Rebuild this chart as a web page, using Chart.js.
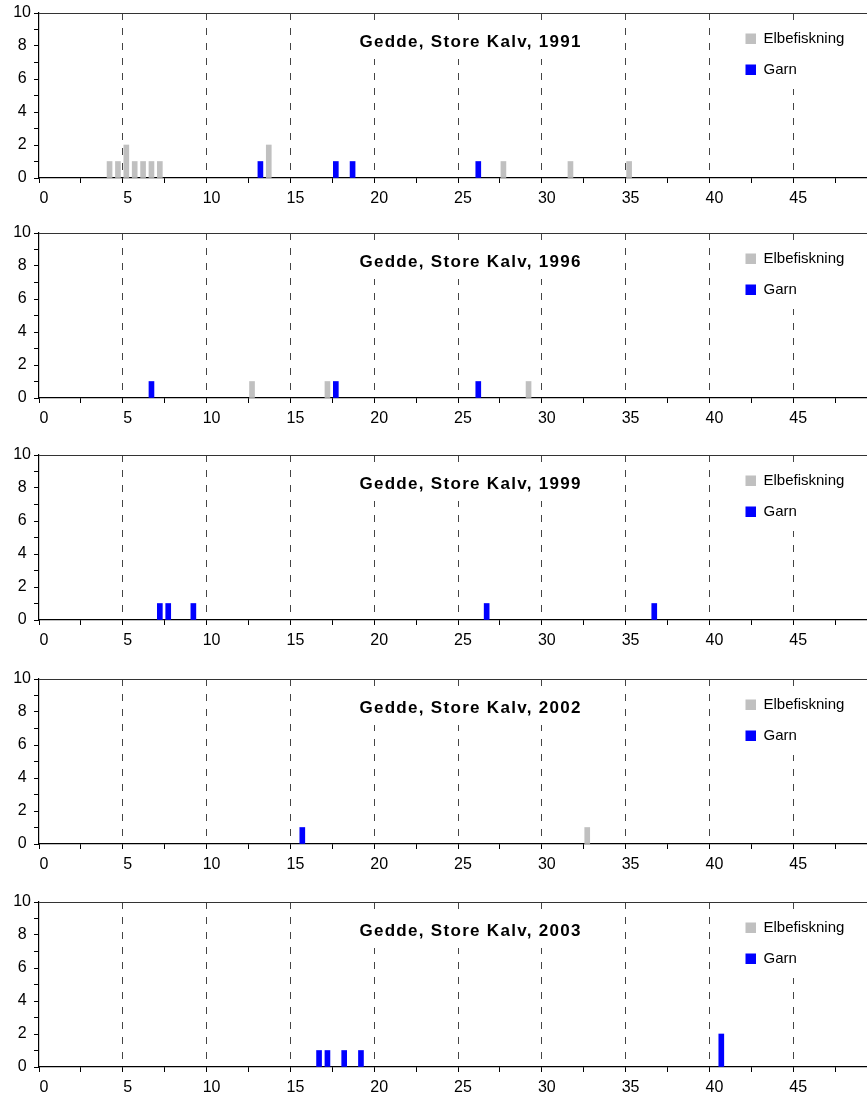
<!DOCTYPE html>
<html>
<head>
<meta charset="utf-8">
<script src="https://cdn.jsdelivr.net/npm/chart.js@4/dist/chart.umd.min.js"></script>
<style>
  html, body { margin: 0; padding: 0; background: #fff; width: 867px; height: 1104px; overflow: hidden; }
  .panel { position: absolute; left: 0; }
</style>
</head>
<body>
<div id="wrap"></div>
<script>
const years = [1991, 1996, 1999, 2002, 2003];

// length class (cm) and number of fish, one inner array per year
const elbeLengths = [
  [4, 4.5, 5, 5.5, 6, 6.5, 7, 13.5, 27.5, 31.5, 35],
  [12.5, 17, 29],
  [],
  [32.5],
  []
];
const elbeCounts = [
  [1, 1, 2, 1, 1, 1, 1, 2, 1, 1, 1],
  [1, 1, 1],
  [],
  [1],
  []
];
const garnLengths = [
  [13, 17.5, 18.5, 26],
  [6.5, 17.5, 26],
  [7, 7.5, 9, 26.5, 36.5],
  [15.5],
  [16.5, 17, 18, 19, 40.5]
];
const garnCounts = [
  [1, 1, 1, 1],
  [1, 1, 1],
  [1, 1, 1, 1, 1],
  [1],
  [1, 1, 1, 1, 2]
];

const xTickLabels = ['0', '5', '10', '15', '20', '25', '30', '35', '40', '45'];
const yTickLabels = ['0', '2', '4', '6', '8', '10'];

const FONT = 'Arial, "Liberation Sans", sans-serif';
const BAR_SHIFT = 0.21; // bars sit just right of the class mark
const PANEL_TOPS = [0, 220, 442, 666, 889];
const X_PAD = 6;
const W = 877 + X_PAD, H = 215; // plot runs a bit past the right edge of the page

function toPoints(lens, counts) {
  return lens.map((l, i) => ({ x: l + BAR_SHIFT, y: counts[i] }));
}

// title and legend drawn inside the plot area, on white boxes
const panelText = {
  id: 'panelText',
  beforeDatasetsDraw(chart, args, opts) {
    const { ctx, chartArea: a } = chart;
    const cx = a.left + 0.515 * (a.right - a.left);
    ctx.save();
    ctx.fillStyle = '#fff';
    ctx.fillRect(cx - 125, a.top + 8, 250, 38);
    ctx.fillRect(a.right - 142, a.top + 8, 142, 68);

    ctx.fillStyle = '#000';
    ctx.font = 'bold 17px ' + FONT;
    if ('letterSpacing' in ctx) ctx.letterSpacing = '1.3px';
    ctx.textAlign = 'center';
    ctx.textBaseline = 'middle';
    ctx.fillText(opts.title, cx, a.top + 29);
    if ('letterSpacing' in ctx) ctx.letterSpacing = '0px';

    ctx.font = '15px ' + FONT;
    ctx.textAlign = 'left';
    const lx = a.right - 131.5;
    chart.data.datasets.forEach((ds, i) => {
      const y = a.top + 25.5 + i * 31;
      ctx.fillStyle = ds.backgroundColor;
      ctx.fillRect(lx, y - 5, 10.5, 10.5);
      ctx.fillStyle = '#000';
      ctx.fillText(ds.label, lx + 18, y);
    });
    ctx.restore();
  }
};

years.forEach((yr, k) => {
  const div = document.createElement('div');
  div.className = 'panel';
  div.style.top = PANEL_TOPS[k] + 'px';
  const cv = document.createElement('canvas');
  cv.width = W;
  cv.height = H;
  div.appendChild(cv);
  document.getElementById('wrap').appendChild(div);

  new Chart(cv.getContext('2d'), {
    type: 'bar',
    data: {
      datasets: [
        {
          label: 'Elbefiskning',
          data: toPoints(elbeLengths[k], elbeCounts[k]),
          backgroundColor: '#c0c0c0',
          barThickness: 5,
          borderWidth: 0
        },
        {
          label: 'Garn',
          data: toPoints(garnLengths[k], garnCounts[k]),
          backgroundColor: '#0000ff',
          barThickness: 5,
          borderWidth: 0
        }
      ]
    },
    options: {
      responsive: false,
      animation: false,
      events: [],
      grouped: false,
      layout: { padding: { top: 13, left: 0, right: 0, bottom: 0 } },
      plugins: {
        legend: { display: false },
        tooltip: { enabled: false },
        panelText: { title: 'Gedde, Store Kalv, ' + yr }
      },
      scales: {
        x: {
          type: 'linear',
          min: 0,
          max: 50,
          offset: false,
          afterFit: (s) => { s.height = 37; },
          grid: {
            offset: false,
            color: (c) => {
              const v = c.tick ? c.tick.value : 0;
              return (v > 0 && v < 50 && v % 5 === 0) ? '#444' : 'rgba(0,0,0,0)';
            },
            lineWidth: 1,
            tickColor: '#000',
            tickLength: 5
          },
          border: { display: true, color: '#000', width: 1.2, dash: [7, 8] },
          ticks: {
            stepSize: 2.5,
            autoSkip: false,
            maxRotation: 0,
            padding: X_PAD,
            labelOffset: 5,
            color: '#000',
            font: { family: FONT, size: 16 },
            callback: (v) => xTickLabels.includes(String(v)) ? String(v) : ''
          }
        },
        y: {
          min: 0,
          max: 10,
          afterFit: (s) => { s.width = 39; },
          grid: {
            color: (c) => (c.tick && c.tick.value === 10) ? '#333' : 'rgba(0,0,0,0)',
            lineWidth: 1,
            tickColor: '#000',
            tickLength: 5
          },
          border: { display: true, color: '#000', width: 1.2 },
          ticks: {
            stepSize: 1,
            autoSkip: false,
            crossAlign: 'center',
            padding: 3,
            color: '#000',
            font: { family: FONT, size: 16 },
            callback: (v) => yTickLabels.includes(String(v)) ? String(v) : ''
          }
        }
      }
    },
    plugins: [panelText]
  });
});
</script>
</body>
</html>
